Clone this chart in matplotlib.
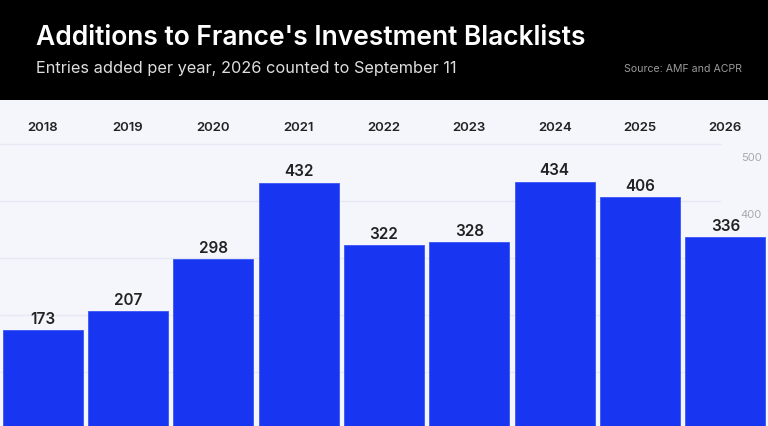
import matplotlib
matplotlib.use('Agg')

import matplotlib.pyplot as plt
import matplotlib.transforms as mtransforms

plt.rcParams['font.family'] = ['Inter', 'DejaVu Sans']

# data
years = ['2018', '2019', '2020', '2021', '2022', '2023', '2024', '2025', '2026']
entries = [173, 207, 298, 432, 322, 328, 434, 406, 336]
grid_vals = [100, 200, 300, 400, 500]

BLUE = '#1836f2'
BG = '#f5f6fc'

fig = plt.figure(figsize=(7.68, 4.27), dpi=100)
fig.patch.set_facecolor('black')

# header text
fig.text(36 / 768, 1 - 38 / 427, "Additions to France's Investment Blacklists",
         color='white', fontsize=19, fontweight='semibold', va='center', ha='left')
fig.text(36 / 768, 1 - 69 / 427, "Entries added per year, 2026 counted to September 11",
         color='#dedede', fontsize=11.75, va='center', ha='left')
fig.text(742 / 768, 1 - 69 / 427, "Source: AMF and ACPR",
         color='#9a9a9a', fontsize=7.6, va='center', ha='right')

ax = fig.add_axes([0, 0, 1, 1 - 101 / 427])
ax.set_facecolor(BG)
x = list(range(len(years)))

# gridlines and right-side labels, behind bars
ax.hlines(grid_vals, -0.5, 7.95, color='#e6e8f2', lw=1, zorder=0)
for v in grid_vals:
    ax.text(8.43, v - 15, str(v), ha='right', va='top', fontsize=8,
            color='#a8a8b0', zorder=1)

bars = ax.bar(x, entries, width=0.94, color=BLUE, edgecolor='#3a55f5',
              linewidth=0.6, zorder=2)

for xi, v in zip(x, entries):
    ax.annotate(str(v), (xi, v), xytext=(0, 3), textcoords='offset points',
                ha='center', va='bottom', fontsize=11, fontweight='semibold',
                color='#222222', zorder=3)

# year labels at the top of the plot area
trans = mtransforms.blended_transform_factory(ax.transData, ax.transAxes)
for xi, yr in zip(x, years):
    ax.text(xi, 0.917, yr, transform=trans, ha='center', va='center',
            fontsize=9.5, fontweight='semibold', color='#222222')

ax.set_xlim(-0.5, 8.5)
ax.set_ylim(5, 577)
ax.set_xticks([])
ax.set_yticks([])
for s in ax.spines.values():
    s.set_visible(False)

fig.savefig('out.png', dpi=100, facecolor=fig.get_facecolor())
